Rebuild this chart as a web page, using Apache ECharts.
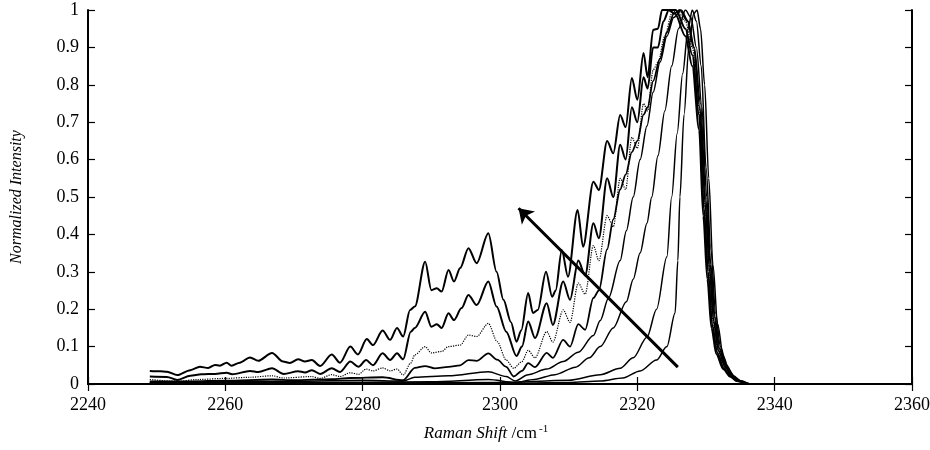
<!DOCTYPE html>
<html>
<head>
<meta charset="utf-8">
<script src="https://cdn.jsdelivr.net/npm/echarts@6/dist/echarts.min.js"></script>
<style>
  html, body { margin: 0; padding: 0; background: #fff; }
  #chart { width: 930px; height: 450px; }
</style>
</head>
<body>
<div id="chart"></div>
<script>
// Axis ticks
const xTicks = [2240, 2260, 2280, 2300, 2320, 2340, 2360];
const yTicks = [0, 0.1, 0.2, 0.3, 0.4, 0.5, 0.6, 0.7, 0.8, 0.9, 1];

// Spectra, [Raman shift, normalized intensity], outermost first
const curveA = [[2249,0.035],[2250.5,0.034],[2251.5,0.033],[2253,0.024],[2254.9,0.037],[2256.3,0.046],[2257.5,0.043],[2258.5,0.051],[2259.2,0.049],[2260.2,0.057],[2260.9,0.049],[2262.1,0.057],[2263.6,0.071],[2264.8,0.062],[2266.8,0.083],[2268.4,0.06],[2269.4,0.056],[2270.6,0.066],[2271.6,0.06],[2272.6,0.064],[2273.8,0.048],[2275.5,0.079],[2276.7,0.057],[2278.2,0.1],[2279.3,0.079],[2280.6,0.12],[2281.5,0.104],[2282.9,0.143],[2284,0.118],[2285,0.15],[2285.9,0.127],[2286.9,0.198],[2287.6,0.207],[2289.1,0.327],[2290,0.251],[2290.8,0.256],[2291.5,0.247],[2292.5,0.305],[2293.3,0.274],[2294.2,0.31],[2295.4,0.363],[2296.6,0.323],[2298.3,0.403],[2299.5,0.3],[2300.5,0.225],[2301.6,0.165],[2302.4,0.113],[2303.1,0.144],[2304.1,0.243],[2304.8,0.19],[2305.5,0.198],[2306.7,0.3],[2307.6,0.233],[2308.1,0.25],[2309,0.358],[2309.9,0.287],[2311.3,0.465],[2312.1,0.367],[2313.6,0.541],[2314.4,0.519],[2315.6,0.65],[2316.5,0.617],[2317.5,0.719],[2318.3,0.687],[2319.2,0.818],[2320,0.76],[2320.9,0.885],[2321.5,0.82],[2322.3,0.947],[2323,0.95],[2323.6,1.0],[2324.5,1.0],[2325.5,0.99],[2327,0.93],[2328,0.85],[2329,0.68],[2329.6,0.45],[2330.2,0.28],[2330.8,0.15],[2331.5,0.08],[2332.5,0.04],[2333.5,0.02],[2334.5,0.008],[2336,0]];
const curveB = [[2249,0.02],[2251.5,0.019],[2253,0.011],[2254.9,0.022],[2256.5,0.026],[2258.5,0.027],[2260.2,0.03],[2261,0.026],[2263.6,0.035],[2264.8,0.032],[2266.8,0.042],[2268.5,0.027],[2270.6,0.034],[2271.6,0.031],[2272.6,0.037],[2273.8,0.027],[2275.5,0.042],[2276.7,0.032],[2278.2,0.06],[2279.4,0.046],[2280.5,0.064],[2281.5,0.05],[2282.9,0.082],[2284,0.064],[2285,0.082],[2285.9,0.066],[2287,0.14],[2287.6,0.15],[2289.1,0.193],[2290,0.153],[2290.8,0.16],[2291.5,0.15],[2292.5,0.189],[2293.3,0.171],[2294.4,0.203],[2295.4,0.238],[2296.6,0.211],[2298.3,0.274],[2299.5,0.207],[2300.9,0.14],[2302.4,0.075],[2303.2,0.1],[2304.1,0.167],[2305.1,0.123],[2306.8,0.216],[2307.7,0.158],[2309.2,0.274],[2310.2,0.225],[2311.4,0.33],[2312.4,0.29],[2313.6,0.43],[2314.4,0.39],[2315.6,0.55],[2316.5,0.5],[2317.5,0.64],[2318.3,0.6],[2319.2,0.74],[2320,0.7],[2320.9,0.82],[2321.5,0.79],[2322.3,0.9],[2323,0.9],[2323.8,0.97],[2324.6,1.0],[2325.6,1.0],[2327,0.95],[2328,0.88],[2329,0.72],[2329.7,0.47],[2330.3,0.3],[2330.9,0.16],[2331.6,0.085],[2332.6,0.042],[2333.6,0.02],[2334.6,0.008],[2336,0]];
const curveC = [[2249,0.012],[2253,0.007],[2256,0.012],[2260,0.015],[2263.6,0.018],[2266.8,0.022],[2268.5,0.016],[2272.6,0.02],[2273.8,0.015],[2275.5,0.025],[2276.7,0.02],[2278.2,0.03],[2279.4,0.026],[2280.5,0.04],[2281.5,0.035],[2282.9,0.043],[2284,0.035],[2285,0.04],[2285.9,0.024],[2287,0.056],[2287.6,0.078],[2289.1,0.1],[2290,0.083],[2291.5,0.087],[2292.5,0.1],[2294.2,0.104],[2295.4,0.131],[2296.6,0.127],[2298.3,0.162],[2299.6,0.113],[2300.9,0.064],[2302,0.042],[2303.2,0.06],[2304.1,0.09],[2305.1,0.07],[2306.8,0.14],[2307.7,0.112],[2309.2,0.198],[2310.2,0.165],[2311.4,0.27],[2312.4,0.24],[2313.6,0.37],[2314.4,0.33],[2315.6,0.45],[2316.5,0.42],[2317.5,0.55],[2318.3,0.52],[2319.2,0.66],[2320,0.63],[2320.9,0.75],[2321.5,0.73],[2322.3,0.84],[2323,0.86],[2324,0.93],[2325,0.99],[2325.8,1.0],[2327,0.97],[2328,0.9],[2329,0.74],[2329.8,0.48],[2330.4,0.31],[2331,0.17],[2331.7,0.09],[2332.7,0.045],[2333.7,0.02],[2334.7,0.008],[2336,0]];
const curveD = [[2249,0.007],[2255,0.007],[2260,0.009],[2266.8,0.012],[2270,0.01],[2275.5,0.013],[2278.2,0.016],[2282.9,0.018],[2285.9,0.01],[2287.6,0.043],[2289.1,0.048],[2290.5,0.042],[2292.5,0.046],[2294.2,0.05],[2295.4,0.064],[2296.6,0.062],[2298.3,0.082],[2299.6,0.065],[2300.9,0.046],[2302,0.02],[2303.2,0.035],[2304.1,0.056],[2305.1,0.045],[2306.8,0.083],[2307.7,0.07],[2309.2,0.118],[2310.2,0.1],[2311.4,0.16],[2312.4,0.145],[2313.6,0.23],[2314.4,0.25],[2315.6,0.36],[2316.5,0.44],[2317.5,0.52],[2318.3,0.56],[2319.2,0.62],[2320,0.65],[2320.9,0.72],[2321.5,0.74],[2322.3,0.81],[2323.3,0.87],[2324.3,0.94],[2325.3,0.99],[2326.2,1.0],[2327.3,0.97],[2328.2,0.9],[2329.1,0.74],[2329.9,0.48],[2330.5,0.31],[2331.1,0.17],[2331.8,0.09],[2332.8,0.045],[2333.8,0.02],[2334.8,0.008],[2336,0]];
const curveE = [[2249,0.005],[2260,0.006],[2270,0.007],[2280,0.01],[2285.9,0.008],[2287.6,0.018],[2292.5,0.022],[2298.3,0.033],[2300.9,0.02],[2302.2,0.008],[2304.1,0.025],[2306.8,0.04],[2309.2,0.06],[2311.4,0.085],[2313.6,0.13],[2314.6,0.17],[2315.8,0.23],[2317.5,0.33],[2318.4,0.41],[2319.4,0.5],[2320.4,0.6],[2321.4,0.69],[2322.3,0.78],[2323.3,0.86],[2324.3,0.93],[2325.3,0.98],[2326.4,1.0],[2327.4,0.97],[2328.3,0.9],[2329.2,0.75],[2330,0.49],[2330.6,0.32],[2331.2,0.18],[2331.9,0.095],[2332.9,0.047],[2333.9,0.021],[2334.9,0.008],[2336,0]];
const curveF = [[2249,0.003],[2270,0.004],[2290,0.006],[2298.3,0.012],[2302.2,0.004],[2305,0.012],[2308,0.025],[2311,0.045],[2313,0.07],[2314.6,0.1],[2316.5,0.15],[2318.4,0.22],[2319.4,0.28],[2320.4,0.35],[2321.4,0.43],[2322.1,0.5],[2323,0.61],[2324,0.73],[2325,0.85],[2326,0.95],[2327,1.0],[2327.8,0.98],[2328.6,0.9],[2329.4,0.74],[2330.1,0.5],[2330.7,0.32],[2331.3,0.18],[2332,0.095],[2333,0.047],[2334,0.021],[2335,0.008],[2336.2,0]];
const curveG = [[2249,0.002],[2280,0.003],[2300,0.004],[2310,0.01],[2314.6,0.025],[2317.5,0.042],[2319.4,0.07],[2321.4,0.125],[2322.8,0.2],[2324.3,0.34],[2325,0.5],[2325.8,0.67],[2326.6,0.83],[2327.4,0.95],[2328,1.0],[2328.6,0.97],[2329.3,0.85],[2330,0.58],[2330.7,0.36],[2331.4,0.19],[2332.1,0.1],[2333,0.05],[2334,0.022],[2335,0.009],[2336.3,0]];
const curveH = [[2249,0.001],[2300,0.002],[2310,0.004],[2314.6,0.008],[2317.9,0.016],[2320.4,0.035],[2322.8,0.064],[2324.3,0.1],[2325.5,0.19],[2325.9,0.33],[2326.2,0.5],[2326.8,0.72],[2327.5,0.9],[2328.2,0.99],[2328.7,1.0],[2329.2,0.95],[2329.8,0.8],[2330.4,0.55],[2331,0.32],[2331.7,0.16],[2332.5,0.075],[2333.4,0.035],[2334.4,0.014],[2335.5,0.004],[2336.5,0]];

// Arrow annotation: tail, head
const arrowCoords = [[2325.9, 0.045], [2302.7, 0.47]];

const curves = [
  { name: 'A', data: curveA, width: 2, type: 'solid' },
  { name: 'B', data: curveB, width: 2, type: 'solid' },
  { name: 'C', data: curveC, width: 1.2, type: 'dotted' },
  { name: 'D', data: curveD, width: 1.8, type: 'solid' },
  { name: 'E', data: curveE, width: 1.5, type: 'solid' },
  { name: 'F', data: curveF, width: 1.5, type: 'solid' },
  { name: 'G', data: curveG, width: 1.5, type: 'solid' },
  { name: 'H', data: curveH, width: 1.5, type: 'solid' }
];

const serif = '"Liberation Serif", "DejaVu Serif", serif';

const chart = echarts.init(document.getElementById('chart'));

const lineSeries = curves.map(c => ({
  name: c.name,
  type: 'line',
  data: c.data,
  showSymbol: false,
  symbol: 'none',
  smooth: 0.3,
  smoothMonotone: 'x',
  lineStyle: { color: '#000', width: c.width, type: c.type },
  z: 3
}));

const axisCommon = {
  type: 'value',
  axisLine: { show: true, lineStyle: { color: '#000', width: 2 } },
  axisTick: { show: true, inside: true, length: 7, lineStyle: { color: '#000', width: 1.2 } },
  splitLine: { show: false }
};

chart.setOption({
  backgroundColor: '#fff',
  animation: false,
  grid: { left: 88, right: 18, top: 10, bottom: 66, containLabel: false, outerBoundsMode: 'none' },
  xAxis: [
    Object.assign({}, axisCommon, {
      min: xTicks[0], max: xTicks[xTicks.length - 1], interval: 20,
      axisLabel: { color: '#000', fontFamily: serif, fontSize: 18, margin: 12, formatter: v => String(v) },
      name: '{i|Raman Shift}{n| /cm}{s|-1}',
      nameLocation: 'middle',
      nameGap: 40,
      nameTextStyle: {
        padding: [0, 28, 0, 0],
        rich: {
          i: { fontFamily: serif, fontStyle: 'italic', fontSize: 17, color: '#000' },
          n: { fontFamily: serif, fontSize: 17, color: '#000' },
          s: { fontFamily: serif, fontSize: 11, color: '#000', verticalAlign: 'top', padding: [0, 0, 8, 2] }
        }
      }
    }),
    Object.assign({}, axisCommon, {
      position: 'top',
      min: xTicks[0], max: xTicks[xTicks.length - 1], interval: 20,
      axisLabel: { show: false }
    })
  ],
  yAxis: [
    Object.assign({}, axisCommon, {
      min: yTicks[0], max: yTicks[yTicks.length - 1], interval: 0.1,
      axisLabel: { color: '#000', fontFamily: serif, fontSize: 18, margin: 9 },
      name: 'Normalized Intensity',
      nameLocation: 'middle',
      nameGap: 63,
      nameTextStyle: { fontFamily: serif, fontStyle: 'italic', fontSize: 16, color: '#000' }
    }),
    Object.assign({}, axisCommon, {
      position: 'right',
      min: yTicks[0], max: yTicks[yTicks.length - 1], interval: 0.1,
      axisLabel: { show: false }
    })
  ],
  series: lineSeries.concat([{
    type: 'lines',
    coordinateSystem: 'cartesian2d',
    symbol: ['none', 'arrow'],
    symbolSize: 14,
    lineStyle: { color: '#000', width: 3, opacity: 1 },
    data: [{ coords: arrowCoords }],
    z: 5
  }])
});
</script>
</body>
</html>
